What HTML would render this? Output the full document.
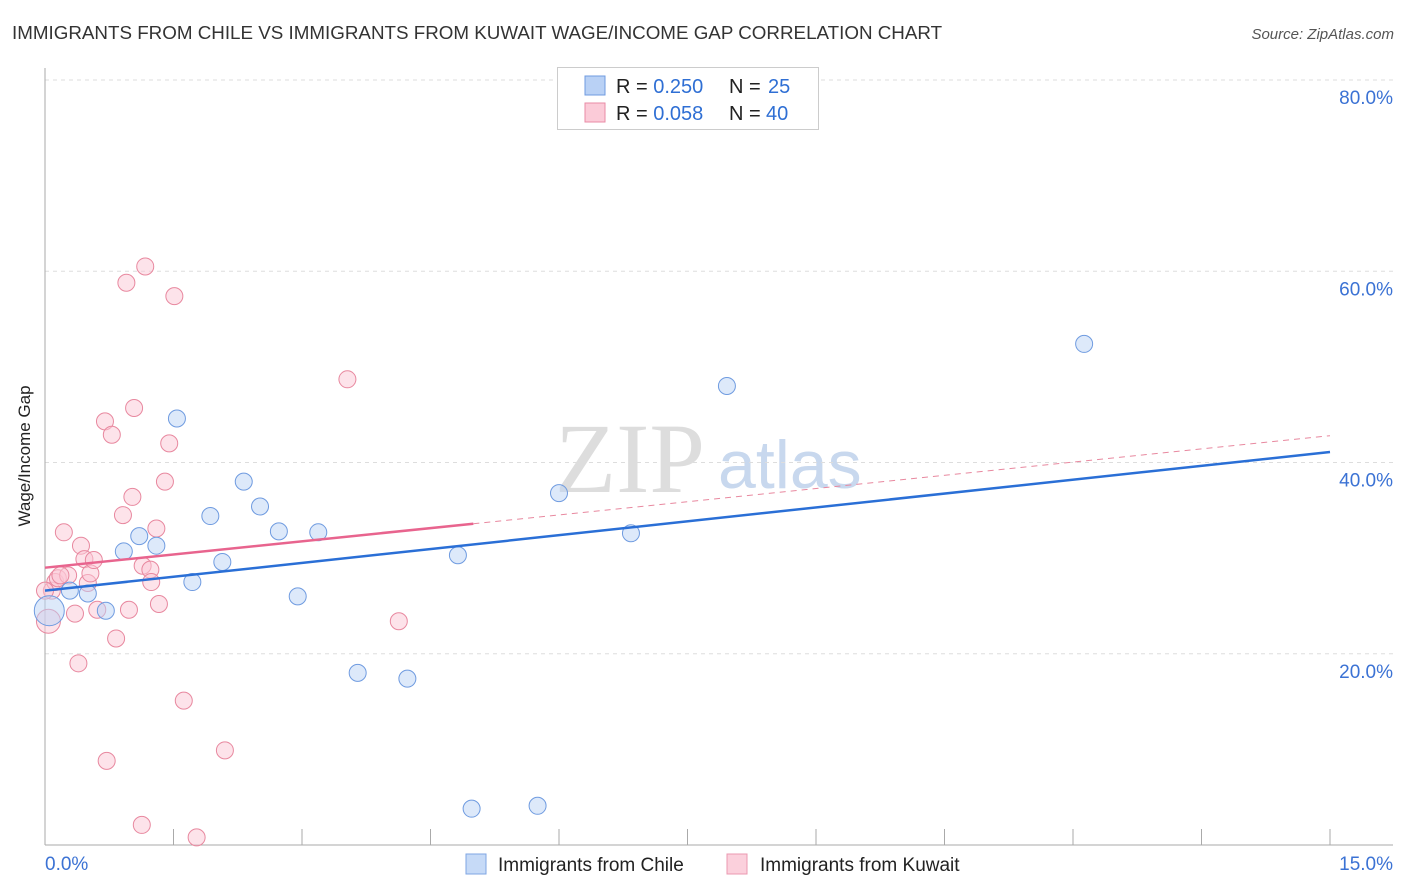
<!DOCTYPE html>
<html><head><meta charset="utf-8"><style>
body{margin:0;background:#fff;font-family:"Liberation Sans",sans-serif;}
svg{display:block}
</style></head><body>
<svg id="chart" width="1406" height="892" xmlns="http://www.w3.org/2000/svg">
<text x="12" y="39" font-size="18.8" fill="#333">IMMIGRANTS FROM CHILE VS IMMIGRANTS FROM KUWAIT WAGE/INCOME GAP CORRELATION CHART</text>
<text x="1394" y="39" font-size="15" fill="#555" text-anchor="end" font-style="italic">Source: ZipAtlas.com</text>
<text x="30" y="456" font-size="17" fill="#222" text-anchor="middle" transform="rotate(-90 30 456)">Wage/Income Gap</text>
<g>
<text x="555" y="492" font-size="100" font-family="Liberation Serif,serif" fill="#ddd">ZIP</text>
<text x="718" y="488" font-size="68" fill="#c8d8ee">atlas</text>
</g>
<g id="grid"></g>
<g id="axes"></g>
<g id="marks"></g>
<g>
<rect x="557.5" y="67.5" width="261" height="62" fill="#fff" stroke="#ccc"/>
<rect x="585" y="76" width="20" height="19" fill="#b9d1f5" stroke="#6f9be0"/>
<text x="616" y="93" font-size="20" fill="#222">R = <tspan fill="#2f6fd4">0.250</tspan></text>
<text x="729" y="93" font-size="20" fill="#222">N = <tspan x="768" fill="#2f6fd4">25</tspan></text>
<rect x="585" y="103" width="20" height="19" fill="#fbcbd8" stroke="#e88ba6"/>
<text x="616" y="120" font-size="20" fill="#222">R = <tspan fill="#2f6fd4">0.058</tspan></text>
<text x="729" y="120" font-size="20" fill="#222">N = <tspan x="766" fill="#2f6fd4">40</tspan></text>
</g>
<g>
<rect x="466" y="854" width="20" height="20" fill="#c6daf7" stroke="#7fa6e3"/>
<text x="498" y="871" font-size="19" fill="#222">Immigrants from Chile</text>
<rect x="727" y="854" width="20" height="20" fill="#fbd0dc" stroke="#eb98b0"/>
<text x="760" y="871" font-size="19" fill="#222">Immigrants from Kuwait</text>
</g>
</svg>
<script>
const yTicks=[20,40,60,80];
const yTickLabels=["20.0%","40.0%","60.0%","80.0%"];
const xTickCount=10;
const xLabels=["0.0%","15.0%"];
const chileX=[0.05,0.29,0.50,0.71,0.92,1.10,1.30,1.54,1.72,1.93,2.07,2.32,2.51,2.73,2.95,3.19,3.65,4.23,4.82,4.98,5.75,6.00,6.84,7.96,12.13];
const chileY=[24.5,26.6,26.3,24.5,30.7,32.3,31.3,44.6,27.5,34.4,29.6,38.0,35.4,32.8,26.0,32.7,18.0,17.4,30.3,3.8,4.1,36.8,32.6,48.0,52.4];
const kuwaitX=[0.04,0.08,0.12,0.15,0.22,0.27,0.35,0.39,0.42,0.46,0.50,0.53,0.57,0.61,0.70,0.72,0.78,0.83,0.91,0.95,0.98,1.02,1.04,1.13,1.14,1.17,1.23,1.24,1.30,1.33,1.40,1.45,1.51,1.62,1.77,2.10,3.53,4.13,0.18,0.0];
const kuwaitY=[23.4,26.6,27.5,27.9,32.7,28.2,24.2,19.0,31.3,29.9,27.4,28.4,29.8,24.6,44.3,8.8,42.9,21.6,34.5,58.8,24.6,36.4,45.7,2.1,29.2,60.5,28.8,27.5,33.1,25.2,38.0,42.0,57.4,15.1,0.8,9.9,48.7,23.4,28.2,26.6];
const chileTrend=[26.6,41.1];
const kuwaitTrend=[29.0,42.8];
const kuwaitSolidEnd=5;
const NS="http://www.w3.org/2000/svg";
const X=v=>45+v*(1330-45)/15;
const Y=v=>845-v*(845-80)/80;
function mk(tag,attrs,parent){const e=document.createElementNS(NS,tag);for(const k in attrs)e.setAttribute(k,attrs[k]);parent.appendChild(e);return e;}
const grid=document.getElementById('grid'),axes=document.getElementById('axes'),marks=document.getElementById('marks');
yTicks.forEach((t,i)=>{
 const l=mk('line',{x1:45,x2:1393,y1:Y(t),y2:Y(t),stroke:'#ddd','stroke-dasharray':'4,4'},grid);
 
 
 const tx=mk('text',{x:1393,y:Y(t)+24,'font-size':19,fill:'#3b72d4','text-anchor':'end'},axes);
 tx.textContent=yTickLabels[i];
 
 
});
const ya=mk('line',{x1:45,x2:45,y1:68,y2:845,stroke:'#aaa'},axes);


const xa=mk('line',{x1:45,x2:1393,y1:845,y2:845,stroke:'#aaa'},axes);


for(let i=1;i<=xTickCount;i++){
 const v=15*i/xTickCount;
 const tk=mk('line',{x1:X(v),x2:X(v),y1:829,y2:845,stroke:'#aaa'},axes);
 
 
}
[[0,'start',45],[15,'end',1393]].forEach((d,i)=>{
 const tx=mk('text',{x:d[2],y:870,'font-size':19,fill:'#3b72d4','text-anchor':d[1]},axes);
 tx.textContent=xLabels[i];
 
 
});
function pts(xs,ys,fill,stroke,name,big){
 xs.forEach((x,i)=>{
  const c=mk('circle',{cx:X(x),cy:Y(ys[i]),r:(i===0?big:8.5),fill:fill,'fill-opacity':0.5,stroke:stroke,'stroke-width':1},marks);
  
  
 });
}
pts(kuwaitX,kuwaitY,'#fbc8d6','#e8889f','point-kuwait',12);
pts(chileX,chileY,'#bcd3f5','#6f9be0','point-chile',15);
const tb=mk('line',{x1:X(0),y1:Y(chileTrend[0]),x2:X(15),y2:Y(chileTrend[1]),stroke:'#2a6fd6','stroke-width':2.5},marks);


const ky=x=>kuwaitTrend[0]+(kuwaitTrend[1]-kuwaitTrend[0])*x/15;
const tk1=mk('line',{x1:X(0),y1:Y(ky(0)),x2:X(kuwaitSolidEnd),y2:Y(ky(kuwaitSolidEnd)),stroke:'#e8648e','stroke-width':2.5},marks);


const tk2=mk('line',{x1:X(kuwaitSolidEnd),y1:Y(ky(kuwaitSolidEnd)),x2:X(15),y2:Y(ky(15)),stroke:'#e8889f','stroke-width':1,'stroke-dasharray':'6,5'},marks);


</script>
</body></html>
